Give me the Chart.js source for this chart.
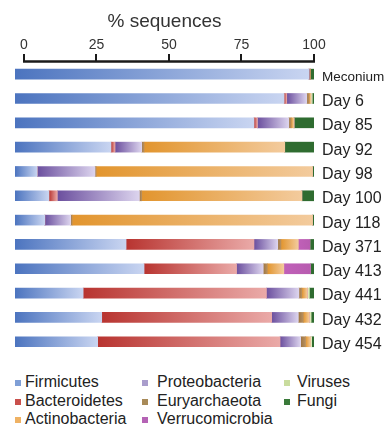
<!DOCTYPE html>
<html>
<head>
<meta charset="utf-8">
<script src="https://cdn.jsdelivr.net/npm/chart.js@4/dist/chart.umd.min.js"></script>
<style>
    body { margin: 0; background: #fff; font-family: "Liberation Sans", Arial, sans-serif; }
    #wrap { position: relative; width: 387px; height: 430px; }
    #chart-box { position: absolute; left: 0; top: 0; width: 387px; height: 370px; }
    #legend { position: absolute; left: 0; top: 373px; width: 387px; height: 57px; font-size: 16px; color: #222; }
    #legend .sw { position: absolute; width: 6px; height: 6px; }
    #legend .txt { position: absolute; white-space: nowrap; line-height: 18px; }
</style>
</head>
<body>
<div id="wrap">
    <div id="chart-box"><canvas id="bar-chart"></canvas></div>
    <div id="legend"></div>
</div>
<script>
// Samples (top to bottom)
const samples = ['Meconium', 'Day 6', 'Day 85', 'Day 92', 'Day 98', 'Day 100', 'Day 118',
                 'Day 371', 'Day 413', 'Day 441', 'Day 432', 'Day 454'];

// % sequences per group
const firmicutes      = [98.3, 89.7, 79.3, 30.0, 4.6, 8.6, 7.2, 35.2, 41.4, 20.4, 26.8, 25.4];
const bacteroidetes   = [0, 0.9, 1.2, 1.4, 0, 2.9, 0, 44.1, 31.9, 63.2, 58.6, 62.9];
const proteobacteria  = [0, 6.9, 10.8, 9.2, 19.9, 28.3, 8.9, 8.2, 9.2, 11.2, 9.2, 7.1];
const euryarchaeota   = [0.4, 0.8, 0.8, 0.8, 0.4, 0.8, 0.5, 1.1, 1.4, 1.0, 1.7, 1.7];
const actinobacteria  = [0, 0.6, 1.0, 48.5, 74.6, 55.2, 82.9, 6.0, 5.7, 1.9, 2.1, 1.7];
const verrucomicrobia = [0, 0, 0, 0, 0, 0, 0, 4.0, 9.2, 0, 0, 0];
const viruses         = [0, 0.5, 0, 0, 0, 0, 0, 0, 0, 0.7, 0.6, 0.4];
const fungi           = [1.3, 0.6, 6.9, 10.1, 0.5, 4.2, 0.5, 1.3, 1.2, 1.6, 1.0, 0.8];

const xTicks = [0, 25, 50, 75, 100];

// stacking order in the bars
const groups = ['Firmicutes', 'Bacteroidetes', 'Proteobacteria', 'Euryarchaeota',
                'Actinobacteria', 'Verrucomicrobia', 'Viruses', 'Fungi'];
const series = [firmicutes, bacteroidetes, proteobacteria, euryarchaeota,
                actinobacteria, verrucomicrobia, viruses, fungi];

// dark -> light shading of each segment
const shades = [
    ['#4c74bf', '#c9d5f1'],
    ['#b83430', '#eaaaa8'],
    ['#6b4f9e', '#dcd4ee'],
    ['#9c7440', '#b89060'],
    ['#e2952e', '#f3cb9d'],
    ['#c060b8', '#b85cb0'],
    ['#d6e4a8', '#e2ecbe'],
    ['#2f6c30', '#2f6c30']
];
const swatches = ['#7f9fd6', '#c9504c', '#a99dcc', '#a88a58', '#efb264', '#b563b5', '#c9dc9e', '#3a7a3a'];

// legend reads column by column
const legendColumns = [
    ['Firmicutes', 'Bacteroidetes', 'Actinobacteria'],
    ['Proteobacteria', 'Euryarchaeota', 'Verrucomicrobia'],
    ['Viruses', 'Fungi']
];

const fontFamily = '"Liberation Sans", Arial, sans-serif';
const barStart = -3.1; // bars in the figure start a little left of the 0 tick

function segmentColor(ctx, i) {
    const chart = ctx.chart;
    const x = chart.scales && chart.scales.x;
    if (ctx.type !== 'data' || !chart.chartArea || !x) return shades[i][0];
    const row = ctx.dataIndex;
    let start = 0;
    for (let k = 0; k < i; k++) start += series[k][row];
    const end = start + series[i][row];
    if (i === 0) start = barStart;
    const x0 = x.getPixelForValue(start);
    const x1 = x.getPixelForValue(end);
    if (x1 - x0 < 1) return shades[i][0];
    const g = chart.ctx.createLinearGradient(x0, 0, x1, 0);
    g.addColorStop(0, shades[i][0]);
    g.addColorStop(1, shades[i][1]);
    return g;
}

const axisLine = {
    id: 'axisLine',
    afterDraw(chart) {
        const x = chart.scales.x;
        const c = chart.ctx;
        const y = chart.chartArea.top - 0.5;
        c.save();
        c.strokeStyle = '#1a1a1a';
        c.lineWidth = 2.5;
        c.beginPath();
        c.moveTo(x.getPixelForValue(0) - 1, y);
        c.lineTo(x.getPixelForValue(100) + 1, y);
        c.stroke();
        c.restore();
    }
};

const datasets = groups.map((name, i) => {
    const ds = {
        label: name,
        data: series[i],
        backgroundColor: (ctx) => segmentColor(ctx, i),
        borderWidth: 0,
        barThickness: 10
    };
    if (i === 0) ds.base = barStart;
    return ds;
});

new Chart(document.getElementById('bar-chart'), {
    type: 'bar',
    data: { labels: samples, datasets: datasets },
    plugins: [axisLine],
    options: {
        indexAxis: 'y',
        responsive: true,
        maintainAspectRatio: false,
        animation: false,
        layout: { padding: { left: 15, top: 0, right: 0, bottom: 3 } },
        plugins: {
            legend: { display: false },
            tooltip: { enabled: false }
        },
        scales: {
            x: {
                position: 'top',
                stacked: true,
                min: barStart,
                max: 100,
                afterBuildTicks: (scale) => { scale.ticks = xTicks.map(v => ({ value: v })); },
                afterFit: (scale) => { scale.height = 62; },
                border: { display: false },
                grid: {
                    drawOnChartArea: false,
                    drawTicks: true,
                    tickLength: 8,
                    color: '#1a1a1a',
                    lineWidth: 2
                },
                ticks: {
                    autoSkip: false,
                    maxRotation: 0,
                    padding: 0,
                    color: '#333',
                    font: { family: fontFamily, size: 14 }
                },
                title: {
                    display: true,
                    text: '% sequences',
                    color: '#333',
                    padding: { top: 10, bottom: 0 },
                    font: { family: fontFamily, size: 19 }
                }
            },
            y: {
                position: 'right',
                stacked: true,
                afterFit: (scale) => { scale.width = 73; },
                border: { display: false },
                grid: { display: false, drawTicks: false },
                ticks: {
                    padding: 8,
                    labelOffset: 3,
                    color: '#222',
                    font: (ctx) => ({ family: fontFamily, size: ctx.index === 0 ? 13.5 : 16 })
                }
            }
        }
    }
});

// legend, laid out in columns like the figure
const legend = document.getElementById('legend');
const colSwatchX = [15, 142, 284];
const colTextX = [25, 157, 297];
legendColumns.forEach((col, c) => {
    col.forEach((name, r) => {
        const i = groups.indexOf(name);
        const sw = document.createElement('span');
        sw.className = 'sw';
        sw.style.background = swatches[i];
        sw.style.left = colSwatchX[c] + 'px';
        sw.style.top = (r * 18.5 + 7) + 'px';
        const txt = document.createElement('span');
        txt.className = 'txt';
        txt.textContent = name;
        txt.style.left = colTextX[c] + 'px';
        txt.style.top = (r * 18.5) + 'px';
        legend.appendChild(sw);
        legend.appendChild(txt);
    });
});
</script>
</body>
</html>
